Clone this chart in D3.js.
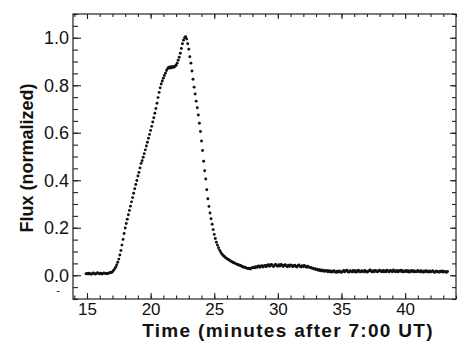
<!DOCTYPE html>
<html>
<head>
<meta charset="utf-8">
<script src="https://cdn.jsdelivr.net/npm/d3@7"></script>
<style>
  body { margin: 0; background: #fff; }
  text { font-family: 'Liberation Sans', Arial, Helvetica, sans-serif; }
</style>
</head>
<body>
<div id="chart"></div>
<script>
// flux samples, one every 5 s, starting at t0
const t0 = 14.917, cadence = 1 / 12;

const fluxPre = [0.006, 0.008, 0.005, 0.009, 0.006, 0.004, 0.007, 0.01, 0.006, 0.005,
  0.008, 0.011, 0.007, 0.006, 0.009, 0.005, 0.007, 0.01, 0.008, 0.006,
  0.009, 0.007, 0.01, 0.012, 0.011];

const fluxRise = [0.015, 0.02, 0.026, 0.034, 0.043, 0.055, 0.068, 0.085, 0.104, 0.127,
  0.151, 0.176, 0.199, 0.218, 0.236, 0.255, 0.273, 0.291, 0.309, 0.327,
  0.345, 0.364, 0.382, 0.399, 0.418, 0.433, 0.452, 0.471, 0.482, 0.497,
  0.512, 0.528, 0.544, 0.56, 0.577, 0.593, 0.61, 0.627, 0.645, 0.663,
  0.682, 0.702, 0.724, 0.748, 0.77, 0.789, 0.805, 0.818, 0.83, 0.841,
  0.851, 0.862, 0.87, 0.876, 0.872, 0.878, 0.874, 0.879, 0.876, 0.88,
  0.884, 0.893, 0.905, 0.918, 0.935, 0.955, 0.975, 0.99, 1.0, 1.004];

const fluxDecay = [0.995, 0.975, 0.952, 0.92, 0.893, 0.86, 0.825, 0.792, 0.763, 0.733,
  0.705, 0.675, 0.64, 0.605, 0.565, 0.525, 0.48, 0.44, 0.405, 0.36,
  0.322, 0.29, 0.262, 0.238, 0.215, 0.192, 0.172, 0.155, 0.139, 0.127,
  0.116, 0.106, 0.098, 0.091, 0.085, 0.081, 0.077, 0.073, 0.07, 0.067,
  0.064, 0.061, 0.058, 0.056, 0.053, 0.052, 0.049, 0.047, 0.045, 0.043, 0.042];

const fluxTailEarly = [0.041, 0.037, 0.036, 0.034, 0.034, 0.031, 0.029, 0.028, 0.03, 0.026, 0.03, 0.032,
  0.034, 0.031, 0.036, 0.033, 0.037, 0.039, 0.034, 0.038, 0.04, 0.035, 0.039, 0.041,
  0.036, 0.042, 0.044, 0.038, 0.043, 0.045, 0.039, 0.037, 0.043, 0.046, 0.04, 0.038,
  0.044, 0.039, 0.045, 0.042, 0.037, 0.042, 0.044, 0.039, 0.036, 0.042, 0.038, 0.043,
  0.041, 0.036, 0.04, 0.042, 0.037, 0.035, 0.041, 0.043, 0.037, 0.035, 0.04, 0.036,
  0.041, 0.037, 0.034, 0.038, 0.035, 0.033,
  0.033, 0.03, 0.03, 0.026, 0.028, 0.024, 0.025, 0.021, 0.023, 0.019, 0.022, 0.018,
  0.021, 0.017, 0.018, 0.02, 0.015, 0.019, 0.014, 0.018, 0.013, 0.017, 0.019, 0.014,
  0.012, 0.017, 0.013, 0.018, 0.015, 0.012];

const fluxTailLate = [0.016, 0.02, 0.014, 0.019, 0.021, 0.015, 0.013, 0.019, 0.017, 0.014,
  0.02, 0.015, 0.019, 0.013, 0.018, 0.021, 0.015, 0.014, 0.019, 0.017,
  0.014, 0.02, 0.017, 0.013, 0.016, 0.019, 0.022, 0.017, 0.014, 0.019,
  0.015, 0.02, 0.017, 0.014, 0.019, 0.021, 0.017, 0.015, 0.02, 0.014,
  0.019, 0.015, 0.021, 0.017, 0.014, 0.02, 0.018, 0.015, 0.022, 0.017,
  0.015, 0.02, 0.014, 0.019, 0.017, 0.021, 0.015, 0.019, 0.014, 0.017,
  0.02, 0.015, 0.019, 0.013, 0.017, 0.02, 0.015, 0.019, 0.014, 0.017,
  0.015, 0.02, 0.017, 0.014, 0.019, 0.015, 0.013, 0.018, 0.014, 0.019,
  0.016, 0.013, 0.018, 0.014, 0.016, 0.019, 0.014, 0.012, 0.017, 0.017,
  0.014, 0.013, 0.017, 0.015, 0.018, 0.013, 0.016, 0.015, 0.012, 0.016];

const xTicks = [15, 20, 25, 30, 35, 40];
const xTickLabels = ['15', '20', '25', '30', '35', '40'];
const yTicks = [0, 0.2, 0.4, 0.6, 0.8, 1.0];
const yTickLabels = ['0.0', '0.2', '0.4', '0.6', '0.8', '1.0'];

const margin = { top: 14, right: 8, bottom: 44, left: 73 },
  width = 464 - margin.left - margin.right,
  height = 343 - margin.top - margin.bottom;

const x = d3.scaleLinear().domain([13.9, 44]).range([0, width]);
const y = d3.scaleLinear().domain([-0.1, 1.1]).range([height, 0]);

const flux = [].concat(fluxPre, fluxRise, fluxDecay, fluxTailEarly, fluxTailLate);
const points = flux.map((v, i) => ({ t: t0 + i * cadence, v: v }));

const xMinor = d3.range(14, 44.01, 1);
const yMinor = d3.range(-0.1, 1.101, 0.05);

const svg = d3.select('#chart')
  .append('svg')
  .attr('width', 464)
  .attr('height', 343)
  .style('background', '#fff');

const g = svg.append('g')
  .attr('transform', 'translate(' + margin.left + ',' + margin.top + ')');

function styleAxis(sel) {
  sel.select('.domain').remove();
  sel.selectAll('line').attr('stroke', '#222').attr('stroke-width', 1.1);
  sel.selectAll('text').attr('fill', '#111').style('font-size', '18px');
}

// minor ticks
g.append('g').attr('transform', 'translate(0,' + height + ')')
  .call(d3.axisBottom(x).tickValues(xMinor).tickSize(-3.5).tickFormat(''))
  .call(styleAxis);
g.append('g')
  .call(d3.axisTop(x).tickValues(xMinor).tickSize(-3).tickFormat(''))
  .call(styleAxis);
g.append('g')
  .call(d3.axisLeft(y).tickValues(yMinor).tickSize(-5).tickFormat(''))
  .call(styleAxis);
g.append('g').attr('transform', 'translate(' + width + ',0)')
  .call(d3.axisRight(y).tickValues(yMinor).tickSize(-4).tickFormat(''))
  .call(styleAxis);

// major ticks
g.append('g').attr('transform', 'translate(0,' + height + ')')
  .call(d3.axisBottom(x).tickValues(xTicks).tickSize(-6).tickPadding(4)
    .tickFormat((d, i) => xTickLabels[i]))
  .call(styleAxis)
  .call((a) => a.selectAll('text').style('font-size', '17px'));
g.append('g')
  .call(d3.axisTop(x).tickValues(xTicks).tickSize(-5).tickFormat(''))
  .call(styleAxis);
g.append('g')
  .call(d3.axisLeft(y).tickValues(yTicks).tickSize(-8).tickPadding(4)
    .tickFormat((d, i) => yTickLabels[i]))
  .call(styleAxis);
g.append('g').attr('transform', 'translate(' + width + ',0)')
  .call(d3.axisRight(y).tickValues(yTicks).tickSize(-6).tickFormat(''))
  .call(styleAxis);

// frame
g.append('rect')
  .attr('width', width)
  .attr('height', height)
  .attr('fill', 'none')
  .attr('stroke', '#222')
  .attr('stroke-width', 1.2);

// stray minus sign left of the axis
g.append('text')
  .attr('x', -15)
  .attr('y', height - 5)
  .attr('text-anchor', 'middle')
  .style('font-size', '11px')
  .attr('fill', '#111')
  .text('-');

g.selectAll('.pt')
  .data(points)
  .enter()
  .append('circle')
  .attr('class', 'pt')
  .attr('cx', (d) => x(d.t))
  .attr('cy', (d) => y(d.v))
  .attr('r', 1.45)
  .attr('fill', '#111');

svg.append('text')
  .attr('x', 288)
  .attr('y', 337)
  .attr('text-anchor', 'middle')
  .style('font-size', '19px')
  .style('font-weight', 'bold')
  .style('letter-spacing', '1.3px')
  .attr('fill', '#111')
  .text('Time (minutes after 7:00 UT)');

svg.append('text')
  .attr('transform', 'translate(33,158) rotate(-90)')
  .attr('text-anchor', 'middle')
  .style('font-size', '18px')
  .style('font-weight', 'bold')
  .attr('fill', '#111')
  .text('Flux (normalized)');
</script>
</body>
</html>
